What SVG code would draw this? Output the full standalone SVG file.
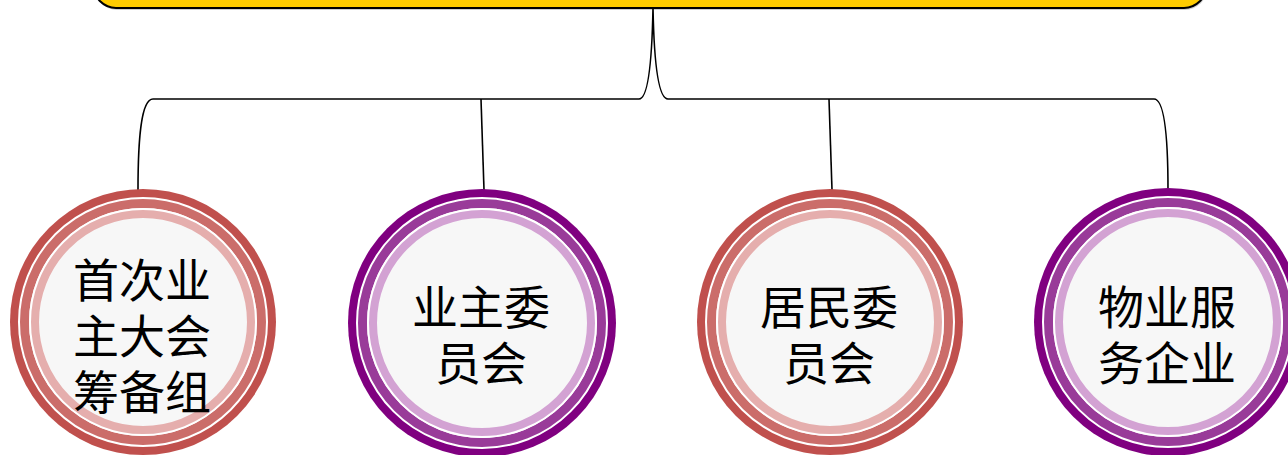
<svg xmlns="http://www.w3.org/2000/svg" width="1288" height="455" viewBox="0 0 1288 455">
<style>
.t{font-family:"Liberation Sans","Noto Sans CJK SC","Noto Sans CJK TC",sans-serif;font-size:46px;fill:#000;text-anchor:middle}
.conn{fill:none;stroke:#000;stroke-width:1.6}
.gap{fill:none;stroke:#fff;stroke-width:2}
.in{fill:#F7F7F7}
.r1{fill:#C0504D}.r2{fill:none;stroke:#CB6D6A;stroke-width:9}.r3{fill:none;stroke:#E5AEAD;stroke-width:8}
.p1{fill:#800080}.p2{fill:none;stroke:#993B99;stroke-width:9}.p3{fill:none;stroke:#D3A2D3;stroke-width:8}
</style>
<g id="top">
<rect x="95" y="-40" width="1112" height="50" rx="22" fill="#CFCFCF"/>
<rect x="94" y="-42" width="1112" height="50" rx="22" fill="#FFCC00" stroke="#000" stroke-width="2"/>
</g>
<g id="connectors">
<path class="conn" d="M138,190 C138,140 141,99 153,99 L639,99 C648,99 652,60 653,8 C654,60 658,99 668,99 L1154,99 C1165,99 1168,140 1168,190"/>
<path class="conn" d="M481,99 L484,190"/>
<path class="conn" d="M829,99 L832,190"/>
</g>
<g id="n1">
<circle class="r1" cx="143" cy="322" r="133"/>
<circle class="in" cx="143" cy="322" r="124"/>
<circle class="gap" cx="143" cy="322" r="124"/>
<circle class="r2" cx="143" cy="322" r="118.5"/>
<circle class="gap" cx="143" cy="322" r="113"/>
<circle class="r3" cx="143" cy="322" r="108"/>
<text class="t" x="142" y="297">首次业<tspan x="142" dy="56">主大会</tspan><tspan x="142" dy="56">筹备组</tspan></text>
</g>
<g id="n2">
<circle class="p1" cx="482" cy="323" r="134"/>
<circle class="in" cx="482" cy="323" r="125"/>
<circle class="gap" cx="482" cy="323" r="125"/>
<circle class="p2" cx="482" cy="323" r="119.5"/>
<circle class="gap" cx="482" cy="323" r="114"/>
<circle class="p3" cx="482" cy="323" r="109"/>
<text class="t" x="481" y="324">业主委<tspan x="481" dy="56">员会</tspan></text>
</g>
<g id="n3">
<circle class="r1" cx="830" cy="322" r="133"/>
<circle class="in" cx="830" cy="322" r="124"/>
<circle class="gap" cx="830" cy="322" r="124"/>
<circle class="r2" cx="830" cy="322" r="118.5"/>
<circle class="gap" cx="830" cy="322" r="113"/>
<circle class="r3" cx="830" cy="322" r="108"/>
<text class="t" x="829" y="324">居民委<tspan x="829" dy="56">员会</tspan></text>
</g>
<g id="n4">
<circle class="p1" cx="1168" cy="322" r="134"/>
<circle class="in" cx="1168" cy="322" r="125"/>
<circle class="gap" cx="1168" cy="322" r="125"/>
<circle class="p2" cx="1168" cy="322" r="119.5"/>
<circle class="gap" cx="1168" cy="322" r="114"/>
<circle class="p3" cx="1168" cy="322" r="109"/>
<text class="t" x="1167" y="324">物业服<tspan x="1167" dy="56">务企业</tspan></text>
</g>
</svg>
